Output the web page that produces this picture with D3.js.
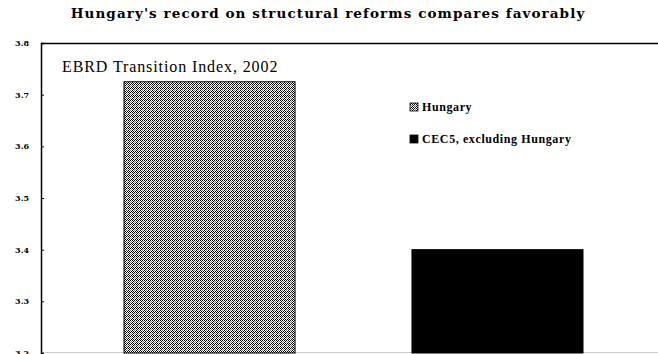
<!DOCTYPE html>
<html><head><meta charset="utf-8">
<script src="https://cdn.jsdelivr.net/npm/d3@7"></script>
<style>body{margin:0;background:#fff}svg{display:block}</style>
</head><body>
<svg id="c" width="658" height="354"></svg>
<script>
const categories = ["Hungary", "CEC5, excluding Hungary"];
const values = [3.725, 3.40];
const tickValues = [3.2, 3.3, 3.4, 3.5, 3.6, 3.7, 3.8];
const title = "Hungary's record on structural reforms compares favorably";
const subtitle = "EBRD Transition Index, 2002";

const svg = d3.select("#c");
const defs = svg.append("defs");
const pat = defs.append("pattern").attr("id","chk").attr("patternUnits","userSpaceOnUse")
  .attr("width",4).attr("height",4);
pat.append("rect").attr("width",4).attr("height",4).attr("fill","#fff");
[[0,0,"#000"],[2,0,"#000"],[1,1,"#000"],[3,1,"#777"],[0,2,"#000"],[2,2,"#777"],[1,3,"#000"],[3,3,"#000"]]
  .forEach(([px,py,c])=>pat.append("rect").attr("x",px).attr("y",py).attr("width",1).attr("height",1).attr("fill",c));

const mLeft = 41, mTop = 43, mRight = 658, mBottom = 353;
const y = d3.scaleLinear().domain([3.2, 3.8]).range([mBottom, mTop]);
const x = d3.scaleBand().domain(categories).range([124, 583]).paddingInner(0.406).paddingOuter(0);

svg.append("text").attr("x",328).attr("y",18).attr("text-anchor","middle")
  .attr("font-family","DejaVu Serif, serif").attr("font-weight","bold").attr("font-size",13.5)
  .attr("letter-spacing","1.1").text(title);

svg.append("line").attr("x1",mLeft).attr("x2",mRight).attr("y1",mTop+0.5).attr("y2",mTop+0.5)
  .attr("stroke","#000").attr("stroke-width",1.3);
svg.append("line").attr("x1",mLeft).attr("x2",mRight).attr("y1",mBottom-0.5).attr("y2",mBottom-0.5)
  .attr("stroke","#ccc").attr("stroke-width",1);

const fills = ["url(#chk)", "#000"];
svg.selectAll("rect.bar").data(values).join("rect").attr("class","bar")
  .attr("x",(d,i)=>x(categories[i])).attr("width",x.bandwidth())
  .attr("y",d=>y(d)).attr("height",d=>mBottom-y(d))
  .attr("fill",(d,i)=>fills[i]).attr("stroke","#000").attr("stroke-width",1);

const ax = svg.append("g").attr("transform",`translate(${mLeft},0)`)
  .call(d3.axisLeft(y).tickValues(tickValues).tickFormat(d3.format(".1f")).tickSize(-3).tickPadding(12));
ax.select(".domain").attr("stroke","#000").attr("stroke-width",1.5);
ax.selectAll(".tick line").attr("stroke","#000");
ax.selectAll(".tick text").attr("font-family","DejaVu Serif, serif").attr("font-weight","bold")
  .attr("font-size",8).attr("fill","#000");

svg.append("text").attr("x",62).attr("y",72)
  .attr("font-family","Liberation Serif, serif").attr("font-size",16).attr("letter-spacing","0.9").text(subtitle);

const lg = svg.append("g");
const lgY = [111, 143];
categories.forEach((c,i)=>{
  lg.append("rect").attr("x",410).attr("y",lgY[i]-8).attr("width",8).attr("height",8)
    .attr("fill",fills[i]).attr("stroke","#000").attr("stroke-width",0.8);
  lg.append("text").attr("x",422).attr("y",lgY[i])
    .attr("font-family","Liberation Serif, serif").attr("font-size",12).attr("font-weight","bold")
    .attr("letter-spacing","0.6").text(c);
});
</script>
</body></html>
